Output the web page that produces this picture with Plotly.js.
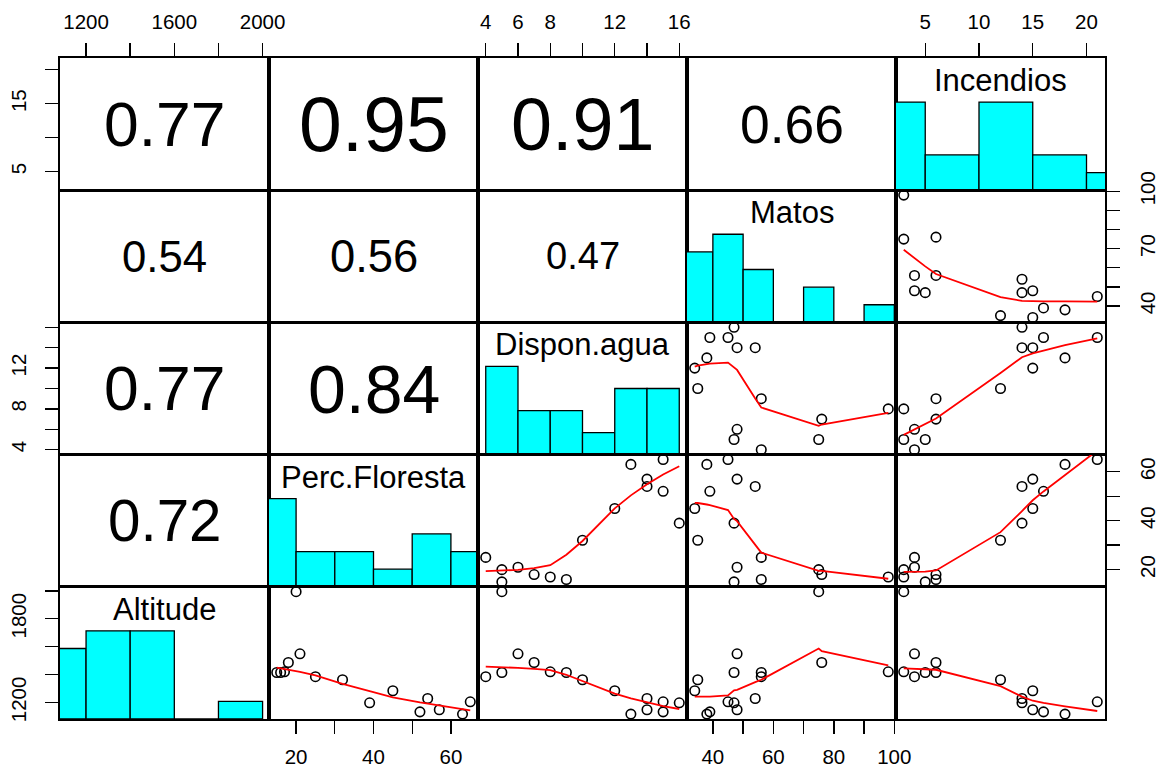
<!DOCTYPE html>
<html><head><meta charset="utf-8">
<script src="https://cdn.plot.ly/plotly-3.0.1.min.js"></script>
<style>body{margin:0;background:#fff}</style>
</head><body>
<div id="chart" style="width:1156px;height:770px"></div>
<script>
// ---------- data (one value per observation) ----------
const variableNames = ["Altitude", "Perc.Floresta", "Dispon.agua", "Matos", "Incendios"];
const altitude     = [1420, 1994, 1385, 1549, 1415, 1487, 1415, 1363, 1229, 1198, 1148, 1284, 1133, 1117, 1205];
const percFloresta = [17, 20, 25, 21, 15, 18, 16, 32, 54, 39, 57, 45, 52, 63, 65];
const disponAgua   = [8, 5, 4, 6, 5, 7, 9, 10, 14, 16, 14, 12, 15, 13, 15];
const matos        = [98, 75, 56, 48, 47, 76, 56, 35, 54, 47, 48, 34, 39, 38, 45];
const incendios    = [3, 3, 4, 4, 5, 6, 6, 12, 14, 14, 15, 15, 16, 18, 21];

// printed (absolute) correlations in the upper panels
const corrRowVar = ["Incendios", "Incendios", "Incendios", "Incendios", "Matos", "Matos", "Matos", "Dispon.agua", "Dispon.agua", "Perc.Floresta"];
const corrColVar = ["Altitude", "Perc.Floresta", "Dispon.agua", "Matos", "Altitude", "Perc.Floresta", "Dispon.agua", "Altitude", "Perc.Floresta", "Altitude"];
const corrLabels = ["0.77", "0.95", "0.91", "0.66", "0.54", "0.56", "0.47", "0.77", "0.84", "0.72"];

// tick values and tick labels (blank = tick without label)
const altitudeTicks      = [1200, 1400, 1600, 1800, 2000];
const altitudeTopLabels  = ["1200", "", "1600", "", "2000"];
const altitudeLeftLabels = ["1200", "", "", "1800", ""];
const percTicks          = [20, 30, 40, 50, 60];
const percLabels         = ["20", "", "40", "", "60"];
const disponTicks        = [4, 6, 8, 10, 12, 14, 16];
const disponTopLabels    = ["4", "6", "8", "", "12", "", "16"];
const disponLeftLabels   = ["4", "", "8", "", "12", "", ""];
const matosTicks         = [40, 50, 60, 70, 80, 90, 100];
const matosBottomLabels  = ["40", "", "60", "", "80", "", "100"];
const matosRightLabels   = ["40", "", "", "70", "", "", "100"];
const incendiosTicks     = [5, 10, 15, 20];
const incendiosTopLabels = ["5", "10", "15", "20"];
const incendiosLeftLabels= ["5", "", "15", ""];

// ---------- helpers ----------
const series = {"Altitude": altitude, "Perc.Floresta": percFloresta, "Dispon.agua": disponAgua, "Matos": matos, "Incendios": incendios};
const colVars = variableNames.slice();
const rowVars = variableNames.slice().reverse();
const FONT = "Liberation Sans, Arial, Helvetica, sans-serif";

function rangeOf(v) { const lo = Math.min(...v), hi = Math.max(...v), d = hi - lo; return [lo - 0.04 * d, hi + 0.04 * d]; }

function pretty(lo, up, ndiv) {
  const h = 1.5, h5 = 0.5 + 1.5 * h;
  const cell = (up - lo) / ndiv;
  const base = Math.pow(10, Math.floor(Math.log10(cell)));
  let unit = base, ns;
  if ((ns = 2 * base) - cell < h * (cell - unit)) { unit = ns;
    if ((ns = 5 * base) - cell < h5 * (cell - unit)) { unit = ns;
      if ((ns = 10 * base) - cell < h * (cell - unit)) unit = ns; } }
  const a = Math.floor(lo / unit + 1e-7), b = Math.ceil(up / unit - 1e-7);
  const br = []; for (let k = a; k <= b; k++) br.push(k * unit);
  return br;
}

function histogram(v) {
  const nclass = Math.ceil(Math.log2(v.length) + 1);
  const br = pretty(Math.min(...v), Math.max(...v), nclass);
  const counts = new Array(br.length - 1).fill(0);
  v.forEach(val => {
    for (let k = 0; k < br.length - 1; k++) {
      if ((val > br[k] || (k === 0 && val >= br[k])) && val <= br[k + 1]) { counts[k]++; break; }
    }
  });
  const mx = Math.max(...counts);
  return { mids: br.slice(0, -1).map((b, k) => (b + br[k + 1]) / 2), widths: br.slice(0, -1).map((b, k) => br[k + 1] - b), heights: counts.map(c => c / mx) };
}

// port of R's clowess (lowess with f = 2/3, iter = 3)
function lowess(xin, yin, f, nsteps) {
  const n = xin.length;
  const idx = xin.map((_, i) => i).sort((a, b) => (xin[a] - xin[b]) || (a - b));
  const x = [0].concat(idx.map(i => xin[i]));
  const y = [0].concat(idx.map(i => yin[i]));
  const delta = 0.01 * (x[n] - x[1]);
  const ys = new Array(n + 1).fill(0), rw = new Array(n + 1).fill(1), res = new Array(n + 1).fill(0);
  const ns = Math.max(2, Math.min(n, Math.floor(f * n + 1e-7)));
  function lowest(xs, nleft, nright, userw) {
    const range = x[n] - x[1];
    const h = Math.max(xs - x[nleft], x[nright] - xs);
    const h9 = 0.999 * h, h1 = 0.001 * h;
    const w = res;
    let a = 0, j = nleft;
    while (j <= n) {
      w[j] = 0;
      const r = Math.abs(x[j] - xs);
      if (r <= h9) {
        if (r <= h1) w[j] = 1; else { const q = r / h, t = 1 - q * q * q; w[j] = t * t * t; }
        if (userw) w[j] *= rw[j];
        a += w[j];
      } else if (x[j] > xs) break;
      j++;
    }
    const nrt = j - 1;
    if (a <= 0) return { ok: false };
    for (j = nleft; j <= nrt; j++) w[j] /= a;
    if (h > 0) {
      a = 0; for (j = nleft; j <= nrt; j++) a += w[j] * x[j];
      let b = xs - a, c = 0;
      for (j = nleft; j <= nrt; j++) c += w[j] * (x[j] - a) * (x[j] - a);
      if (Math.sqrt(c) > 0.001 * range) { b /= c; for (j = nleft; j <= nrt; j++) w[j] *= (b * (x[j] - a) + 1); }
    }
    let s = 0; for (j = nleft; j <= nrt; j++) s += w[j] * y[j];
    return { ok: true, ys: s };
  }
  let iter = 1;
  while (iter <= nsteps + 1) {
    let nleft = 1, nright = ns, last = 0, i = 1;
    for (;;) {
      if (nright < n) {
        const d1 = x[i] - x[nleft], d2 = x[nright + 1] - x[i];
        if (d1 > d2) { nleft++; nright++; continue; }
      }
      const r = lowest(x[i], nleft, nright, iter > 1);
      ys[i] = r.ok ? r.ys : y[i];
      if (last < i - 1) {
        const denom = x[i] - x[last];
        for (let j = last + 1; j < i; j++) { const al = (x[j] - x[last]) / denom; ys[j] = al * ys[i] + (1 - al) * ys[last]; }
      }
      last = i;
      const cut = x[last] + delta;
      for (i = last + 1; i <= n; i++) {
        if (x[i] > cut) break;
        if (x[i] === x[last]) { ys[i] = ys[last]; last = i; }
      }
      i = Math.max(last + 1, i - 1);
      if (last >= n) break;
    }
    for (let k = 1; k <= n; k++) res[k] = y[k] - ys[k];
    let sc = 0; for (let k = 1; k <= n; k++) sc += Math.abs(res[k]); sc /= n;
    if (iter > nsteps) break;
    const ab = res.slice(1).map(Math.abs).sort((a, b) => a - b);
    const m1 = Math.floor(n / 2);
    let cmad;
    if (n % 2 === 0) { const m2 = n - m1 - 1; cmad = 3 * (ab[m1] + ab[m2]); } else cmad = 6 * ab[m1];
    if (cmad < 1e-7 * sc) break;
    const c9 = 0.999 * cmad, c1 = 0.001 * cmad;
    for (let k = 1; k <= n; k++) {
      const r = Math.abs(res[k]);
      rw[k] = r <= c1 ? 1 : (r <= c9 ? Math.pow(1 - Math.pow(r / cmad, 2), 2) : 0);
    }
    iter++;
  }
  return { x: x.slice(1), y: ys.slice(1) };
}

// axis tick configuration for outer axes
const topTicks = { "Altitude": [altitudeTicks, altitudeTopLabels], "Dispon.agua": [disponTicks, disponTopLabels], "Incendios": [incendiosTicks, incendiosTopLabels] };
const bottomTicks = { "Perc.Floresta": [percTicks, percLabels], "Matos": [matosTicks, matosBottomLabels] };
const leftTicks = { "Incendios": [incendiosTicks, incendiosLeftLabels], "Dispon.agua": [disponTicks, disponLeftLabels], "Altitude": [altitudeTicks, altitudeLeftLabels] };
const rightTicks = { "Matos": [matosTicks, matosRightLabels], "Perc.Floresta": [percTicks, percLabels] };

const layout = {
  width: 1156, height: 770,
  margin: { l: 60, r: 51, t: 58, b: 51, pad: 0 },
  paper_bgcolor: "white", plot_bgcolor: "white",
  showlegend: false, barmode: "overlay",
  font: { family: FONT, color: "black" },
  annotations: []
};
const traces = [];

function baseAxis(domain, range, anchor) {
  return { domain: domain, range: range, anchor: anchor, showgrid: false, zeroline: false,
    showline: true, mirror: true, linecolor: "black", linewidth: 1.6, ticks: "", showticklabels: false, fixedrange: true };
}
function addTicks(ax, spec, side, isY) {
  ax.side = side; ax.ticks = "outside"; ax.ticklen = 13; ax.tickwidth = 1.4; ax.tickcolor = "black";
  ax.tickmode = "array"; ax.tickvals = spec[0]; ax.ticktext = spec[1]; ax.showticklabels = true;
  ax.tickfont = { family: FONT, size: 20.5, color: "black" };
  ax.tickangle = isY ? -90 : 0;
  ax.ticklabelstandoff = isY ? 11 : 6;
}

for (let r = 0; r < 5; r++) {
  for (let c = 0; c < 5; c++) {
    const k = r * 5 + c + 1;
    const xs = k === 1 ? "" : String(k);
    const xName = "xaxis" + xs, yName = "yaxis" + xs;
    const xv = colVars[c], yv = rowVars[r];
    const xd = [c / 5, (c + 1) / 5], yd = [1 - (r + 1) / 5, 1 - r / 5];
    const xr = rangeOf(series[xv]), yr = rangeOf(series[yv]);
    const xa = baseAxis(xd, xr, "y" + xs);
    const ya = baseAxis(yd, yr, "x" + xs);
    if (r === 0 && topTicks[xv] && c % 2 === 0) addTicks(xa, topTicks[xv], "top", false);
    if (r === 4 && bottomTicks[xv] && c % 2 === 1) addTicks(xa, bottomTicks[xv], "bottom", false);
    if (c === 0 && leftTicks[yv] && r % 2 === 0) addTicks(ya, leftTicks[yv], "left", true);
    if (c === 4 && rightTicks[yv] && r % 2 === 1) addTicks(ya, rightTicks[yv], "right", true);
    layout[xName] = xa; layout[yName] = ya;

    // every panel gets an (empty) trace so the subplot frame is drawn
    traces.push({ type: "scatter", mode: "markers", x: [], y: [], xaxis: "x" + xs, yaxis: "y" + xs, hoverinfo: "skip" });

    if (r + c === 4) {
      // diagonal: histogram scaled so that the tallest bar reaches 1/1.5 of the panel height
      const hgram = histogram(series[xv]);
      const span = (yr[1] - yr[0]) / 1.5;
      traces.push({ type: "bar", x: hgram.mids, y: hgram.heights.map(h => h * span), base: yr[0], width: hgram.widths,
        xaxis: "x" + xs, yaxis: "y" + xs,
        marker: { color: "#00FFFF", line: { color: "black", width: 1.3 } }, hoverinfo: "skip" });
      layout.annotations.push({ xref: "x" + xs + " domain", yref: "y" + xs + " domain", x: 0.5, y: 1, yanchor: "middle", yshift: -22.5,
        text: xv, showarrow: false, font: { family: FONT, size: 31, color: "black" } });
    } else if (r + c < 4) {
      // upper-left: correlation text, size proportional to |r|
      let lab = "";
      for (let q = 0; q < corrLabels.length; q++) if (corrRowVar[q] === yv && corrColVar[q] === xv) lab = corrLabels[q];
      const val = parseFloat(lab);
      layout.annotations.push({ xref: "x" + xs + " domain", yref: "y" + xs + " domain", x: 0.5, y: 0.5, xanchor: "center", yanchor: "middle",
        text: lab, showarrow: false, font: { family: FONT, size: 81 * val, color: "black" } });
    } else {
      // lower-right: scatter + lowess smooth
      traces.push({ type: "scatter", mode: "markers", x: series[xv], y: series[yv], xaxis: "x" + xs, yaxis: "y" + xs,
        marker: { symbol: "circle-open", size: 9.5, color: "black", line: { width: 1.6, color: "black" } }, hoverinfo: "skip", cliponaxis: false });
      const lw = lowess(series[xv], series[yv], 2 / 3, 3);
      traces.push({ type: "scatter", mode: "lines", x: lw.x, y: lw.y, xaxis: "x" + xs, yaxis: "y" + xs,
        line: { color: "red", width: 1.8 }, hoverinfo: "skip" });
    }
  }
}

Plotly.newPlot("chart", traces, layout, { staticPlot: true, displayModeBar: false });
</script>
</body></html>
